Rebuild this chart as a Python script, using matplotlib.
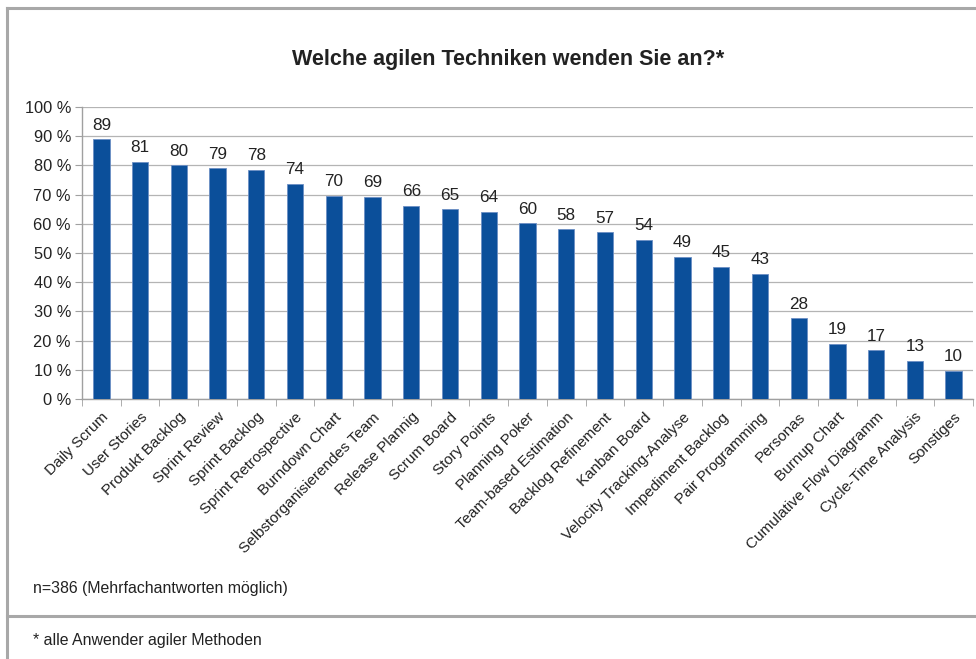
import matplotlib.pyplot as plt
from matplotlib.lines import Line2D

plt.rcParams['font.family'] = ['Liberation Sans', 'DejaVu Sans']

techniques = ["Daily Scrum", "User Stories", "Produkt Backlog", "Sprint Review",
              "Sprint Backlog", "Sprint Retrospective", "Burndown Chart",
              "Selbstorganisierendes Team", "Release Plannig", "Scrum Board",
              "Story Points", "Planning Poker", "Team-based Estimation",
              "Backlog Refinement", "Kanban Board", "Velocity Tracking-Analyse",
              "Impediment Backlog", "Pair Programming", "Personas", "Burnup Chart",
              "Cumulative Flow Diagramm", "Cycle-Time Analysis", "Sonstiges"]
shares = [88.9, 81.2, 80.0, 79.0, 78.4, 73.6, 69.6, 69.3, 66.1, 64.9, 64.2, 60.2,
          58.1, 57.1, 54.4, 48.6, 45.3, 42.9, 27.6, 18.8, 16.7, 13.0, 9.6]
yticks = [0, 10, 20, 30, 40, 50, 60, 70, 80, 90, 100]

W, H = 976, 659
fig = plt.figure(figsize=(W / 100, H / 100), dpi=100)

ax = fig.add_axes([82 / W, 1 - 399 / H, (973 - 82) / W, (399 - 107) / H])
x = range(len(techniques))
bars = ax.bar(x, shares, width=0.42, color='#0B4F9A', edgecolor='#6C8FC4',
              linewidth=0.6, zorder=3)
for b, v in zip(bars, shares):
    ax.text(b.get_x() + b.get_width() / 2, v + 2.3, "%.0f" % v, ha='center',
            va='bottom', fontsize=12.3, color='#222222')

ax.set_xlim(-0.5, len(techniques) - 0.5)
ax.set_ylim(0, 100)
ax.set_yticks(yticks)
ax.set_yticklabels(["%d %%" % t for t in yticks], fontsize=11.8, color='#222222')
ax.grid(axis='y', color='#B4B4B4', linewidth=0.9, zorder=0)
ax.set_xticks(list(x))
ax.set_xticklabels(techniques, rotation=45, ha='right', va='top',
                   rotation_mode='anchor', fontsize=11, color='#222222')
ax.set_xticks([i - 0.5 for i in range(len(techniques) + 1)], minor=True)
ax.tick_params(axis='x', which='major', length=0, pad=8)
ax.tick_params(axis='x', which='minor', length=5, color='#A0A0A0', direction='out')
ax.tick_params(axis='y', length=5, color='#A0A0A0', direction='out', pad=3)
for s in ['top', 'right']:
    ax.spines[s].set_visible(False)
for s in ['left', 'bottom']:
    ax.spines[s].set_color('#A0A0A0')
    ax.spines[s].set_linewidth(1.0)

fig.text(508 / W, 1 - 60 / H, "Welche agilen Techniken wenden Sie an?*",
         ha='center', va='center', fontsize=15.5, fontweight='bold', color='#222222')
fig.text(33 / W, 1 - 588 / H, "n=386 (Mehrfachantworten möglich)",
         ha='left', va='center', fontsize=11.4, color='#222222')
fig.text(33 / W, 1 - 640 / H, "* alle Anwender agiler Methoden",
         ha='left', va='center', fontsize=11.4, color='#222222')

# frame lines
frame = '#A8A8A8'
fig.add_artist(Line2D([7 / W, 7 / W], [0, 1 - 8 / H], color=frame, lw=2.2))
fig.add_artist(Line2D([7 / W, 1], [1 - 8 / H, 1 - 8 / H], color=frame, lw=2.2))
fig.add_artist(Line2D([7 / W, 1], [1 - 616 / H, 1 - 616 / H], color=frame, lw=2.2))

fig.savefig("out.png", dpi=100, facecolor='white')
